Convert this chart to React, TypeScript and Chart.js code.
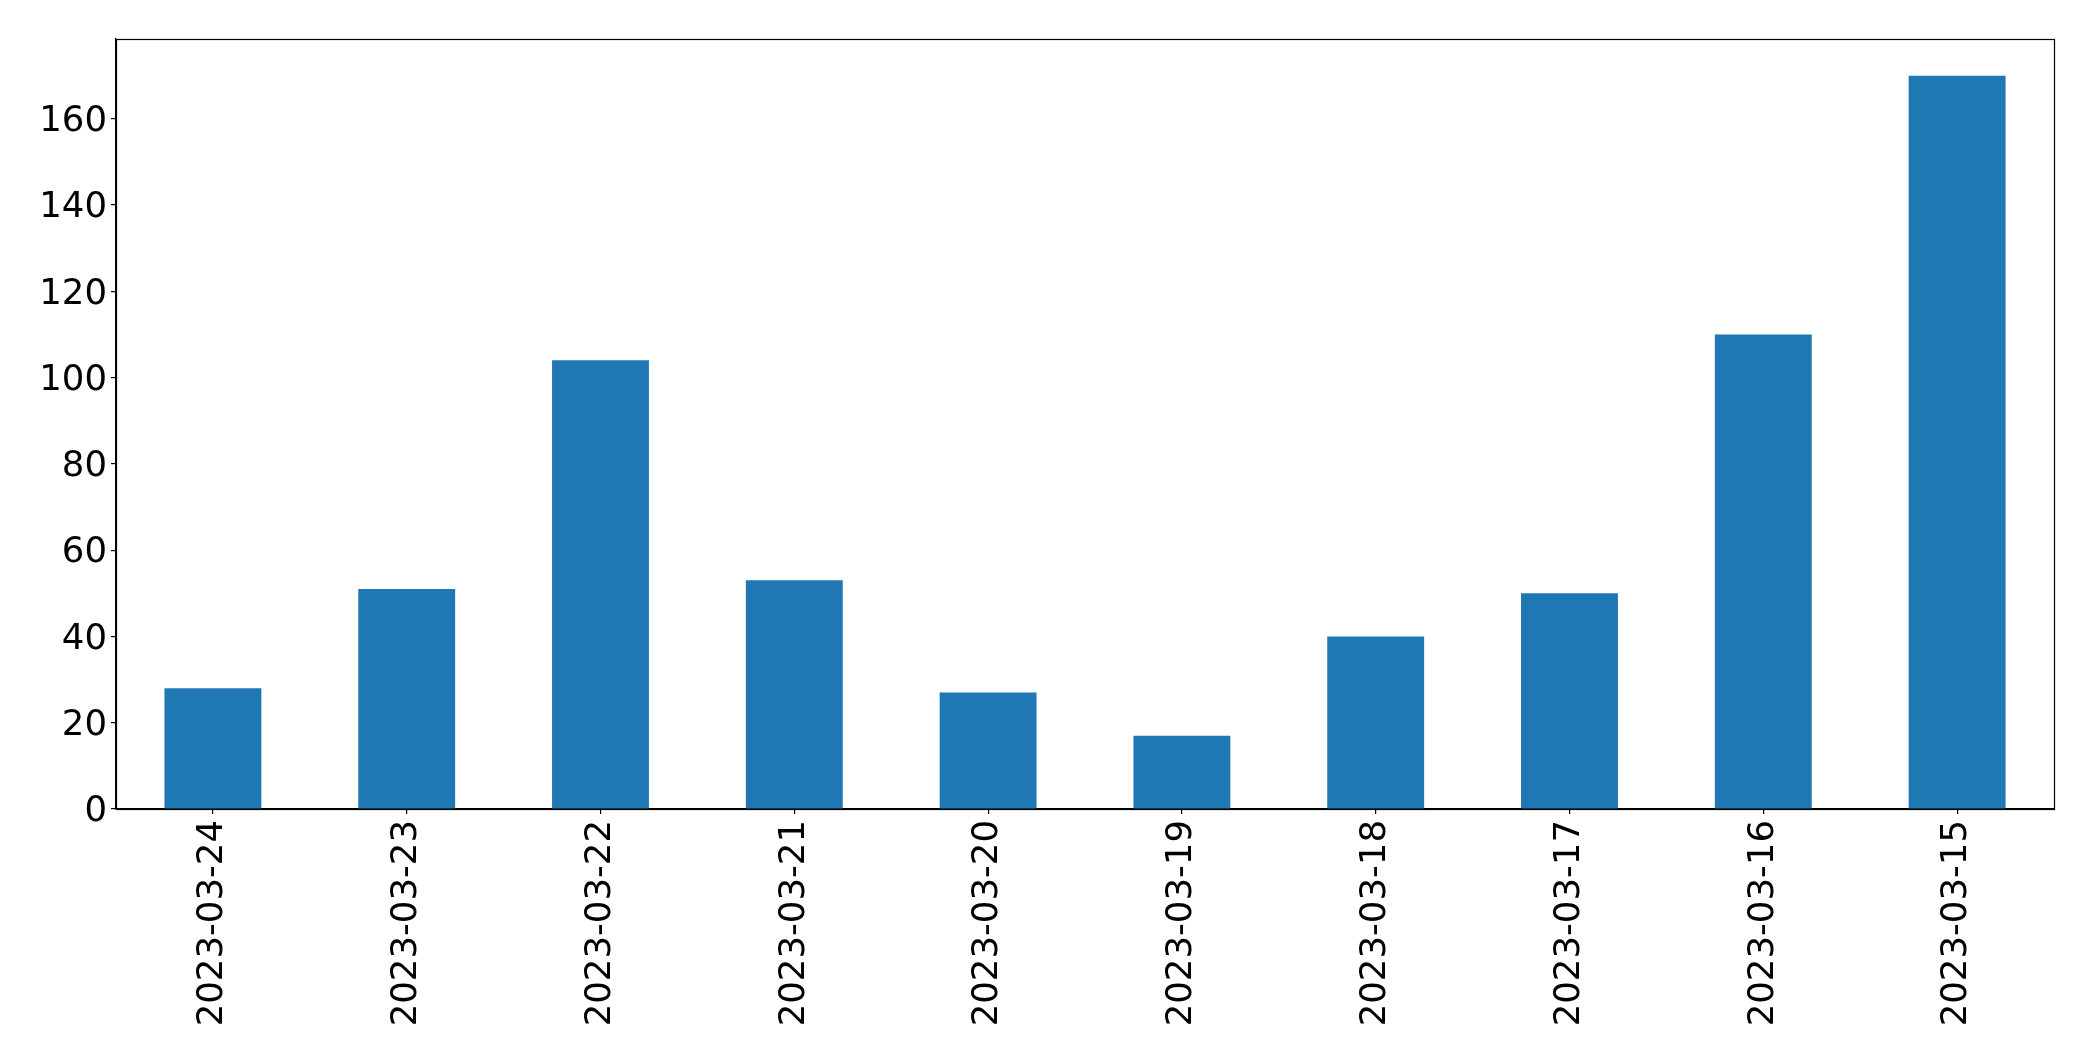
import React, { useEffect, useRef } from "react";
import { Chart, registerables } from "chart.js";

Chart.register(...registerables);

const categories = [
  "2023-03-24",
  "2023-03-23",
  "2023-03-22",
  "2023-03-21",
  "2023-03-20",
  "2023-03-19",
  "2023-03-18",
  "2023-03-17",
  "2023-03-16",
  "2023-03-15",
];
const values = [28, 51, 104, 53, 27, 17, 40, 50, 110, 170];
const yTicks = [0, 20, 40, 60, 80, 100, 120, 140, 160];

const W = 2093;
const H = 1061;

const boxPlugin = {
  id: "boxPlugin",
  afterDraw(chart: any) {
    const { ctx, chartArea } = chart;
    ctx.save();
    ctx.strokeStyle = "#000";
    ctx.lineWidth = 1.2;
    ctx.strokeRect(
      Math.round(chartArea.left) + 0.5,
      Math.round(chartArea.top) + 0.5,
      Math.round(chartArea.right - chartArea.left),
      Math.round(chartArea.bottom - chartArea.top)
    );
    ctx.restore();
  },
};

export default function App() {
  const ref = useRef<HTMLCanvasElement | null>(null);

  useEffect(() => {
    document.body.style.margin = "0";
    const canvas = ref.current;
    if (!canvas) return;
    const font = { family: "'DejaVu Sans', sans-serif", size: 35.5 };
    const chart = new Chart(canvas, {
      type: "bar",
      data: {
        labels: categories,
        datasets: [
          {
            data: values,
            backgroundColor: "#1f77b4",
            borderWidth: 0,
            barPercentage: 0.5,
            categoryPercentage: 1,
          },
        ],
      },
      options: {
        animation: false,
        responsive: false,
        maintainAspectRatio: false,
        devicePixelRatio: 1,
        layout: { padding: { top: 39, right: 39, left: 0, bottom: 0 } },
        plugins: {
          legend: { display: false },
          tooltip: { enabled: false },
        },
        scales: {
          x: {
            offset: true,
            grid: {
              display: true,
              offset: false,
              drawOnChartArea: false,
              drawTicks: true,
              tickLength: 5,
              color: "#000",
              lineWidth: 1.2,
            },
            border: { display: true, color: "#000", width: 1.2 },
            ticks: {
              color: "#000",
              font,
              minRotation: 90,
              maxRotation: 90,
              autoSkip: false,
              padding: 6,
            },
            afterFit(scale: any) {
              scale.height = 252;
            },
          },
          y: {
            min: 0,
            max: Math.max(...values) * 1.05,
            grid: {
              display: true,
              drawOnChartArea: false,
              drawTicks: true,
              tickLength: 5,
              color: "#000",
              lineWidth: 1.2,
            },
            border: { display: true, color: "#000", width: 1.2 },
            ticks: {
              color: "#000",
              font,
              padding: 4,
              labelOffset: 3,
            },
            afterBuildTicks(scale: any) {
              scale.ticks = yTicks.map((v) => ({ value: v }));
            },
            afterFit(scale: any) {
              scale.width = 116;
            },
          },
        },
      },
      plugins: [boxPlugin],
    });
    return () => chart.destroy();
  }, []);

  return (
    <div style={{ position: "absolute", left: 0, top: 0, width: W, height: H, background: "#fff" }}>
      <canvas ref={ref} width={W} height={H} style={{ width: W, height: H, display: "block" }} />
    </div>
  );
}
